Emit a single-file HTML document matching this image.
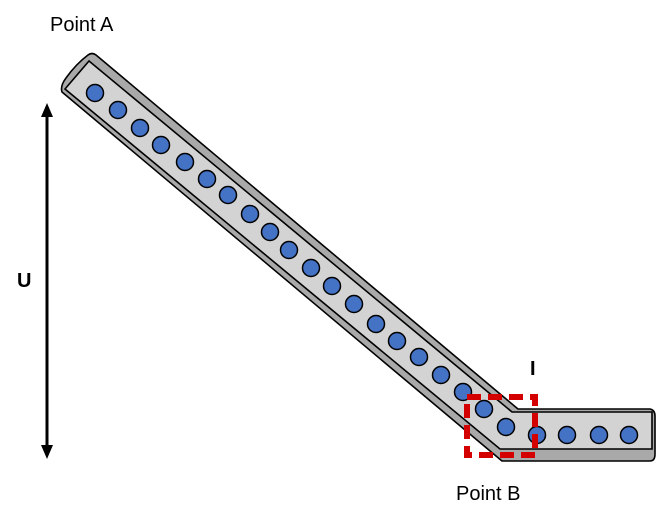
<!DOCTYPE html>
<html><head><style>body{margin:0;background:#fff}svg{display:block}</style></head>
<body>
<svg width="658" height="522" viewBox="0 0 658 522" xmlns="http://www.w3.org/2000/svg" font-family="Liberation Sans, sans-serif">
<defs>
<marker id="ah" markerWidth="14" markerHeight="12" refX="7" refY="6" orient="auto-start-reverse" markerUnits="userSpaceOnUse">
<path d="M0,0 L14,6 L0,12 z" fill="#000"/>
</marker>
</defs>
<text x="50" y="31" font-size="20" fill="#000">Point A</text>
<text x="456" y="500" font-size="20" fill="#000">Point B</text>
<text x="17" y="287" font-size="20" font-weight="bold">U</text>
<text x="530" y="375" font-size="20" font-weight="bold">I</text>
<line x1="47" y1="110" x2="47" y2="452" stroke="#000" stroke-width="3" marker-start="url(#ah)" marker-end="url(#ah)"/>
<path d="M62,92 Q60,86 66,78 Q76,64 88,55 Q92,52 96,55 L518,409 L650,409 Q655,410 655,416 L655,454 Q655,461 650,461 L502,461 Z" fill="#a9a9a9" stroke="#000" stroke-width="1.6" stroke-linejoin="round"/>
<path d="M65,89 L89,61 L512,412 L652,412 L652,449 L500,449 Z" fill="#d3d3d3" stroke="#000" stroke-width="1.6" stroke-linejoin="miter"/>
<g fill="#4472c4" stroke="#000" stroke-width="1.5">
<circle cx="95" cy="93" r="8.5"/><circle cx="118" cy="110" r="8.5"/><circle cx="140" cy="128" r="8.5"/><circle cx="161" cy="145" r="8.5"/><circle cx="185" cy="162" r="8.5"/><circle cx="207" cy="179" r="8.5"/><circle cx="228" cy="195" r="8.5"/><circle cx="250" cy="214" r="8.5"/><circle cx="270" cy="232" r="8.5"/><circle cx="289" cy="250" r="8.5"/><circle cx="311" cy="268" r="8.5"/><circle cx="332" cy="286" r="8.5"/><circle cx="354" cy="304" r="8.5"/><circle cx="376" cy="324" r="8.5"/><circle cx="397" cy="341" r="8.5"/><circle cx="419" cy="357" r="8.5"/><circle cx="441" cy="375" r="8.5"/><circle cx="463" cy="392" r="8.5"/><circle cx="484" cy="409" r="8.5"/><circle cx="506" cy="427" r="8.5"/>
<circle cx="537" cy="435" r="8.5"/><circle cx="567" cy="435" r="8.5"/><circle cx="599" cy="435" r="8.5"/><circle cx="629" cy="435" r="8.5"/>
</g>
<rect x="467" y="397" width="68" height="58" fill="none" stroke="#d40000" stroke-width="6" stroke-dasharray="14,7"/>
</svg>
</body></html>
